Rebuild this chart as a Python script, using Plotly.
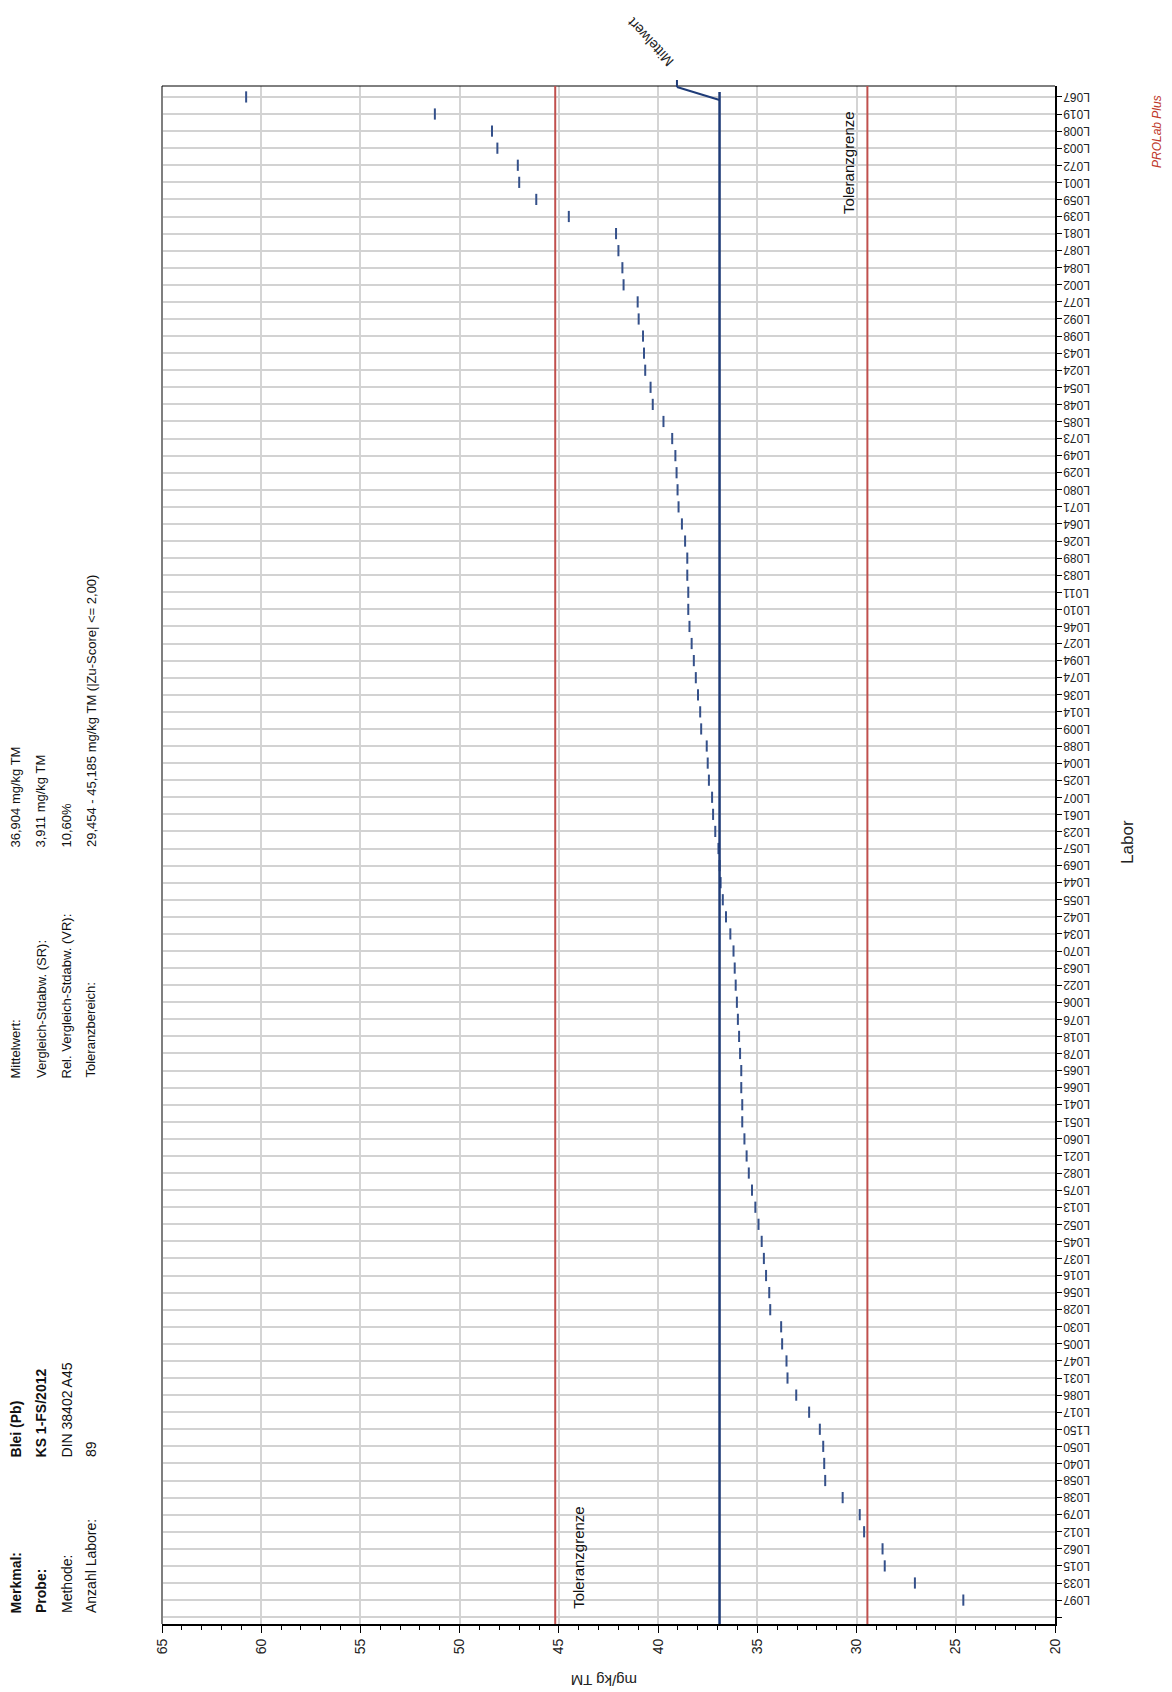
import plotly.graph_objects as go

# ---------------- data ----------------
labs = ["L067", "L019", "L008", "L003", "L072", "L001", "L059", "L039", "L081", "L087",
        "L084", "L002", "L077", "L092", "L098", "L043", "L024", "L054", "L048", "L085",
        "L073", "L049", "L029", "L080", "L071", "L064", "L026", "L089", "L083", "L011",
        "L010", "L046", "L027", "L094", "L074", "L036", "L014", "L009", "L088", "L004",
        "L025", "L007", "L061", "L023", "L057", "L069", "L044", "L055", "L042", "L034",
        "L070", "L063", "L022", "L006", "L076", "L018", "L078", "L065", "L066", "L041",
        "L051", "L060", "L021", "L082", "L075", "L013", "L052", "L045", "L037", "L016",
        "L056", "L028", "L030", "L005", "L047", "L031", "L086", "L017", "L150", "L050",
        "L040", "L058", "L038", "L079", "L012", "L062", "L015", "L033", "L097"]

values = [60.76, 51.25, 48.37, 48.10, 47.07, 47.00, 46.14, 44.50, 42.12, 42.00,
          41.80, 41.74, 41.03, 40.98, 40.76, 40.71, 40.65, 40.38, 40.27, 39.73,
          39.29, 39.13, 39.07, 39.02, 38.97, 38.80, 38.64, 38.53, 38.53, 38.48,
          38.48, 38.42, 38.31, 38.20, 38.10, 37.99, 37.88, 37.83, 37.55, 37.50,
          37.44, 37.28, 37.23, 37.12, 36.96, 36.90, 36.85, 36.74, 36.58, 36.36,
          36.20, 36.14, 36.09, 36.03, 35.98, 35.92, 35.87, 35.81, 35.81, 35.76,
          35.76, 35.65, 35.54, 35.43, 35.27, 35.10, 34.94, 34.78, 34.67, 34.56,
          34.40, 34.35, 33.80, 33.75, 33.53, 33.48, 33.04, 32.39, 31.85, 31.68,
          31.63, 31.58, 30.70, 29.84, 29.62, 28.69, 28.58, 27.06, 24.62]

MEAN = 36.904
TOL_LOW = 29.454
TOL_HIGH = 45.185
x_ticks = [65, 60, 55, 50, 45, 40, 35, 30, 25, 20]

header_labels_1 = ["Merkmal:", "Probe:", "Methode:", "Anzahl Labore:"]
header_values_1 = ["Blei (Pb)", "KS 1-FS/2012", "DIN 38402 A45", "89"]
header_bold_1 = [True, True, False, False]
header_labels_2 = ["Mittelwert:", "Vergleich-Stdabw. (SR):", "Rel. Vergleich-Stdabw. (VR):", "Toleranzbereich:"]
header_values_2 = ["36,904 mg/kg TM", "3,911 mg/kg TM", "10,60%",
                   "29,454 - 45,185 mg/kg TM (|Zu-Score| <= 2,00)"]

FONT = "Liberation Sans, Arial, sans-serif"
BLUE = "#1f3c78"
RED = "#c0504d"

ypos = list(range(len(labs)))

fig = go.Figure()
fig.add_trace(go.Scatter(
    x=values, y=ypos, mode="markers",
    marker=dict(symbol="line-ns", size=8, line=dict(width=2, color="#34508a")),
    hoverinfo="x+text", text=labs, showlegend=False))

fig.update_layout(
    width=1172, height=1692,
    margin=dict(l=162, r=117, t=86, b=68),
    paper_bgcolor="white", plot_bgcolor="white",
    font=dict(family=FONT, size=12, color="#000000"),
    xaxis=dict(range=[65, 20], tickvals=x_ticks, ticktext=[str(v) for v in x_ticks],
               tickangle=-90, ticks="outside", ticklen=7, tickcolor="#000",
               minor=dict(dtick=1, ticks="outside", ticklen=4, tickcolor="#000", showgrid=False),
               showline=True, linewidth=2, linecolor="#000",
               showgrid=True, gridcolor="#d4d4d4", gridwidth=1.5, zeroline=False,
               tickfont=dict(size=14, color="#222")),
    yaxis=dict(range=[89.4, -0.64], tickvals=ypos + [len(labs)],
               side="right", showticklabels=False, ticks="outside", ticklen=5, tickcolor="#000",
               showline=True, linewidth=2, linecolor="#000",
               showgrid=True, gridcolor="#d2d2d2", gridwidth=1.5, zeroline=False),
)

shapes = [
    dict(type="line", xref="paper", yref="paper", x0=0, x1=0, y0=0, y1=1,
         line=dict(color="#7f7f7f", width=2)),
    dict(type="line", xref="paper", yref="paper", x0=0, x1=1, y0=1, y1=1,
         line=dict(color="#000", width=1)),
    dict(type="line", xref="x", yref="paper", x0=TOL_HIGH, x1=TOL_HIGH, y0=0, y1=1,
         line=dict(color=RED, width=2)),
    dict(type="line", xref="x", yref="paper", x0=TOL_LOW, x1=TOL_LOW, y0=0, y1=1,
         line=dict(color=RED, width=2)),
    dict(type="line", xref="x", yref="paper", x0=MEAN, x1=MEAN, y0=0, y1=0.9961,
         line=dict(color=BLUE, width=2.5)),
    dict(type="line", xref="x", yref="paper", x0=MEAN, x1=39.05, y0=0.9909, y1=0.9993,
         line=dict(color=BLUE, width=2)),
    dict(type="line", xref="x", yref="paper", x0=39.05, x1=39.05, y0=0.9993, y1=1.0039,
         line=dict(color=BLUE, width=2)),
]
fig.update_layout(shapes=shapes)

ann = []
# category (lab) labels, drawn upside down to the right of the axis
for i, lab in enumerate(labs):
    ann.append(dict(x=1.0235, y=i, xref="paper", yref="y", text=lab,
                    textangle=180, showarrow=False, xanchor="center", yanchor="middle",
                    font=dict(size=12, color="#222")))

ann.append(dict(x=40.4, y=1.0286, xref="x", yref="paper", text="Mittelwert",
                textangle=-133, showarrow=False, xanchor="center", yanchor="middle",
                font=dict(size=14, color="#222")))
ann.append(dict(x=43.99, y=0.0436, xref="x", yref="paper", text="Toleranzgrenze",
                textangle=-90, showarrow=False, xanchor="center", yanchor="middle",
                font=dict(size=15, color="#111")))
ann.append(dict(x=30.38, y=0.950, xref="x", yref="paper", text="Toleranzgrenze",
                textangle=-90, showarrow=False, xanchor="center", yanchor="middle",
                font=dict(size=15, color="#111")))
ann.append(dict(x=1.0817, y=0.5085, xref="paper", yref="paper", text="Labor",
                textangle=-90, showarrow=False, xanchor="center", yanchor="middle",
                font=dict(size=17, color="#222")))
ann.append(dict(x=0.495, y=-0.0364, xref="paper", yref="paper", text="mg/kg TM",
                textangle=180, showarrow=False, xanchor="center", yanchor="middle",
                font=dict(size=15, color="#222")))
ann.append(dict(x=1.1142, y=0.9707, xref="paper", yref="paper", text="<i>PROLab Plus</i>",
                textangle=-90, showarrow=False, xanchor="center", yanchor="middle",
                font=dict(size=12, color="#c0392b")))

cols = [-0.1635, -0.1355, -0.1064, -0.0795]
for i in range(4):
    lab1 = header_labels_1[i]
    val1 = header_values_1[i]
    if header_bold_1[i]:
        lab1 = "<b>" + lab1 + "</b>"
        val1 = "<b>" + val1 + "</b>"
    ann.append(dict(x=cols[i], y=0.00585, xref="paper", yref="paper", text=lab1,
                    textangle=-90, showarrow=False, xanchor="center", yanchor="bottom",
                    font=dict(size=14, color="#111")))
    ann.append(dict(x=cols[i], y=0.1073, xref="paper", yref="paper", text=val1,
                    textangle=-90, showarrow=False, xanchor="center", yanchor="bottom",
                    font=dict(size=14, color="#111")))
    ann.append(dict(x=cols[i], y=0.3537, xref="paper", yref="paper", text=header_labels_2[i],
                    textangle=-90, showarrow=False, xanchor="center", yanchor="bottom",
                    font=dict(size=13, color="#111")))
    ann.append(dict(x=cols[i], y=0.5039, xref="paper", yref="paper", text=header_values_2[i],
                    textangle=-90, showarrow=False, xanchor="center", yanchor="bottom",
                    font=dict(size=13, color="#111")))

fig.update_layout(annotations=ann)

fig.write_html("out.html", config={"displayModeBar": False},
               post_script="document.body.style.margin='0';")
